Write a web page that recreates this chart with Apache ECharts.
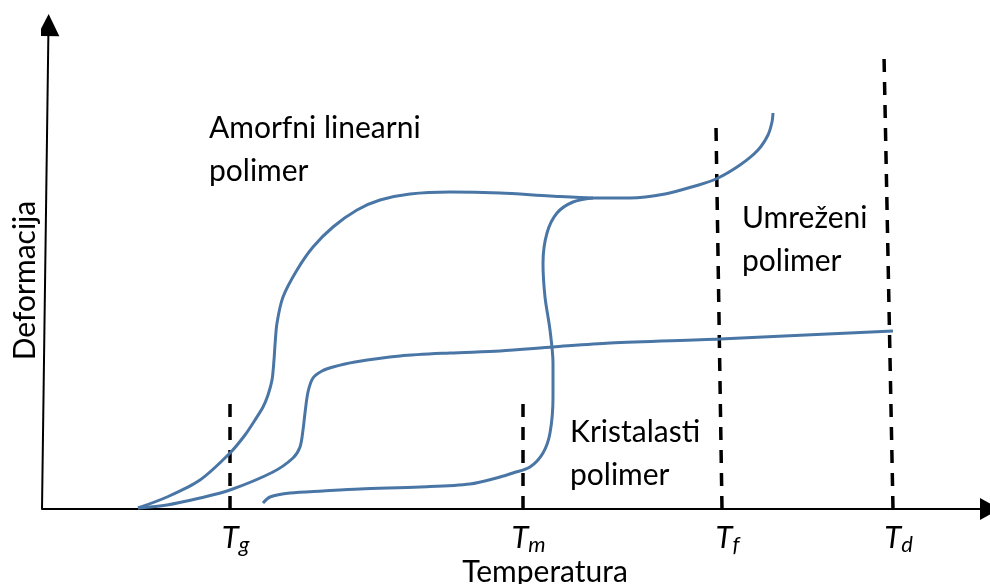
<!DOCTYPE html>
<html>
<head>
<meta charset="utf-8">
<script src="https://cdn.jsdelivr.net/npm/echarts@6/dist/echarts.min.js"></script>
<style>
  html, body { margin: 0; padding: 0; background: #fff; }
  #chart { width: 990px; height: 584px; }
</style>
</head>
<body>
<div id="chart"></div>
<script>
// curves: [temperatura, deformacija] in chart units
var amorfni = [[96,1],[125,12],[158,29],[188,56],[203,74],[213,89],[221,102],[226,114],[230,129],[232,149],[233,164],[235,186],[241,212],[255,239],[271,262],[291,282],[315,299],[338,309],[368,315],[408,317],[458,316],[508,313],[551,311],[588,311],[623,315],[653,323],[674,330],[698,344],[716,359],[726,374],[730,387],[731,396]];
var umrezeni = [[96,1],[125,4],[158,11],[188,19],[231,37],[251,51],[258,62],[261,79],[263,96],[266,117],[271,131],[280,138],[291,142],[313,147],[358,153],[408,156],[458,158],[511,162],[568,166],[678,170],[851,178]];
var kristalasti = [[221,6],[228,12],[248,16],[281,18],[318,20],[378,22],[428,25],[458,32],[471,36],[488,42],[501,56],[508,76],[511,112],[511,146],[508,179],[503,212],[501,246],[505,276],[515,296],[531,307],[551,311]];

// dashed reference temperatures
var tg = [[188,0],[188,111]];
var tm = [[481,0],[481,112]];
var tf = [[680,0],[674,382]];
var td = [[851,0],[842,454]];
var tickValues = [188, 481, 680, 851];
var tickNames = ['g', 'm', 'f', 'd'];

var yAxisLine = [[0,0],[6.5,484]];

var blue = '#4a76a6';
var font = 'Lato';

var chart = echarts.init(document.getElementById('chart'));

function curve(data) {
  return {
    type: 'line', data: data, smooth: 0.3, showSymbol: false, silent: true,
    lineStyle: { color: blue, width: 3 }
  };
}
function dashed(data) {
  return {
    type: 'line', data: data, showSymbol: false, silent: true,
    lineStyle: { color: '#000', width: 3.5, type: [13, 10] }
  };
}

chart.setOption({
  animation: false,
  grid: { left: 42, right: 0, top: 0, bottom: 75, containLabel: false, outerBoundsMode: 'none' },
  xAxis: {
    type: 'value', min: 0, max: 948,
    splitLine: { show: false },
    axisTick: { show: false },
    axisLine: {
      show: true, symbol: ['none', 'triangle'], symbolSize: [22, 20],
      lineStyle: { color: '#000', width: 2 }
    },
    axisLabel: {
      customValues: tickValues,
      margin: 11,
      formatter: function (v) {
        var i = tickValues.indexOf(v);
        return '{t|T}{s|' + tickNames[i] + '}';
      },
      rich: {
        t: { fontFamily: font, fontStyle: 'italic', fontSize: 31, color: '#000', lineHeight: 36, padding: [0, 0, 0, 11] },
        s: { fontFamily: font, fontStyle: 'italic', fontSize: 22, color: '#000', lineHeight: 22, verticalAlign: 'bottom' }
      }
    },
    name: 'Temperatura', nameLocation: 'middle', nameGap: 48, nameMoveOverlap: false,
    nameTextStyle: { fontFamily: font, fontSize: 30, color: '#000', padding: [0, 0, 0, 58] }
  },
  yAxis: {
    type: 'value', min: 0, max: 509,
    splitLine: { show: false },
    axisTick: { show: false },
    axisLabel: { show: false },
    axisLine: { show: false },
    name: 'Deformacija', nameLocation: 'middle', nameGap: 2, nameMoveOverlap: false,
    nameTextStyle: { fontFamily: font, fontSize: 30, color: '#000', padding: [0, 52, 0, 0] }
  },
  series: [
    {
      type: 'lines', coordinateSystem: 'cartesian2d', silent: true,
      symbol: ['none', 'triangle'], symbolSize: 22,
      lineStyle: { color: '#000', width: 2, opacity: 1 },
      data: [{ coords: yAxisLine }]
    },
    dashed(tg), dashed(tm), dashed(tf), dashed(td),
    curve(amorfni), curve(umrezeni), curve(kristalasti)
  ],
  graphic: [
    { type: 'text', left: 209, top: 107, style: { text: 'Amorfni linearni\npolimer', font: '30px Lato', lineHeight: 43, fill: '#000' } },
    { type: 'text', left: 742, top: 197, style: { text: 'Umreženi\npolimer', font: '30px Lato', lineHeight: 43, fill: '#000' } },
    { type: 'text', left: 570, top: 411, style: { text: 'Kristalasti\npolimer', font: '30px Lato', lineHeight: 43, fill: '#000' } }
  ]
});
</script>
</body>
</html>
